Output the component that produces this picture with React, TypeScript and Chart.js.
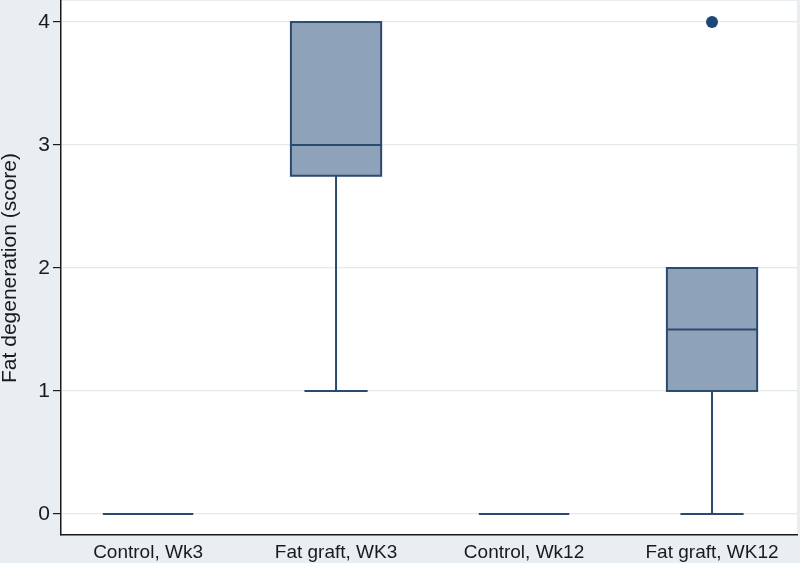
import { useEffect, useRef } from "react"
import { Chart, registerables } from "chart.js"

Chart.register(...registerables)

// data
const categories = ["Control, Wk3", "Fat graft, WK3", "Control, Wk12", "Fat graft, WK12"]
const whiskerLow = [0, 1, 0, 0]
const quartile1 = [0, 2.75, 0, 1]
const medians = [0, 3, 0, 1.5]
const quartile3 = [0, 4, 0, 2]
const whiskerHigh = [0, 4, 0, 2]
const outlierPoints = [{ x: 3, y: 4 }]
const yTicks = [0, 1, 2, 3, 4]

const BOX_FILL = "#8ea3b9"
const BOX_LINE = "#2b4a70"
const DOT = "#1b4676"
const FONT = "Liberation Sans, Arial, sans-serif"

const boxPlugin = {
  id: "boxes",
  beforeDraw(chart: any) {
    const { ctx, chartArea } = chart
    ctx.save()
    ctx.fillStyle = "#e9eef2"
    ctx.fillRect(0, 0, chart.width, chart.height)
    ctx.fillStyle = "#ffffff"
    ctx.fillRect(chartArea.left, chartArea.top, chartArea.right - chartArea.left, chartArea.bottom - chartArea.top)
    ctx.restore()
  },
  beforeDatasetsDraw(chart: any) {
    const { ctx } = chart
    const x = chart.scales.x
    const y = chart.scales.y
    const halfBox = 0.24
    const halfCap = 0.168
    ctx.save()
    ctx.lineWidth = 2
    ctx.strokeStyle = BOX_LINE
    categories.forEach((_, i) => {
      const left = x.getPixelForValue(i - halfBox)
      const right = x.getPixelForValue(i + halfBox)
      const mid = x.getPixelForValue(i)
      const top = y.getPixelForValue(quartile3[i])
      const bottom = y.getPixelForValue(quartile1[i])
      const lo = y.getPixelForValue(whiskerLow[i])
      const hi = y.getPixelForValue(whiskerHigh[i])

      // whiskers and caps
      ctx.beginPath()
      ctx.moveTo(mid, bottom)
      ctx.lineTo(mid, lo)
      ctx.moveTo(mid, top)
      ctx.lineTo(mid, hi)
      ctx.moveTo(x.getPixelForValue(i - halfCap), lo)
      ctx.lineTo(x.getPixelForValue(i + halfCap), lo)
      ctx.moveTo(x.getPixelForValue(i - halfCap), hi)
      ctx.lineTo(x.getPixelForValue(i + halfCap), hi)
      ctx.stroke()

      // box
      ctx.fillStyle = BOX_FILL
      ctx.fillRect(left, top, right - left, bottom - top)
      ctx.strokeRect(left, top, right - left, bottom - top)

      // median
      const m = y.getPixelForValue(medians[i])
      ctx.beginPath()
      ctx.moveTo(left, m)
      ctx.lineTo(right, m)
      ctx.stroke()
    })
    ctx.restore()
  },
}

export default function App() {
  const chartRef = useRef<HTMLCanvasElement>(null)
  const chartInstance = useRef<Chart | null>(null)

  useEffect(() => {
    document.body.style.margin = "0"
    if (!chartRef.current) return
    if (chartInstance.current) chartInstance.current.destroy()
    const ctx = chartRef.current.getContext("2d")
    if (!ctx) return

    chartInstance.current = new Chart(ctx, {
      type: "scatter",
      data: {
        datasets: [
          {
            label: "Outside values",
            data: outlierPoints,
            pointRadius: 6,
            pointHoverRadius: 6,
            pointBackgroundColor: DOT,
            pointBorderColor: DOT,
            pointBorderWidth: 0,
          },
        ],
      },
      options: {
        responsive: false,
        animation: false,
        layout: { autoPadding: false, padding: { top: 1, right: 3 } },
        plugins: {
          legend: { display: false },
          tooltip: { enabled: false },
        },
        scales: {
          x: {
            type: "linear",
            min: -0.463,
            max: 3.452,
            afterBuildTicks: (scale: any) => {
              scale.ticks = categories.map((_, i) => ({ value: i }))
            },
            afterFit: (scale: any) => {
              scale.height = 28
              scale.paddingLeft = 0
              scale.paddingRight = 0
            },
            grid: { display: false },
            border: { display: true, color: "#1a1a1a", width: 1.5 },
            ticks: {
              autoSkip: false,
              maxRotation: 0,
              padding: -2,
              color: "#1a1a1a",
              font: { family: FONT, size: 19 },
              callback: (v: any) => categories[v] ?? "",
            },
          },
          y: {
            min: -0.171,
            max: 4.171,
            afterBuildTicks: (scale: any) => {
              scale.ticks = yTicks.map((v) => ({ value: v }))
            },
            afterFit: (scale: any) => {
              scale.width = 61
              scale.paddingTop = 0
              scale.paddingBottom = 0
            },
            grid: {
              color: "#e4e9ec",
              lineWidth: 1.2,
              tickLength: 8,
              tickColor: "#1a1a1a",
              tickWidth: 1.2,
            },
            border: { display: true, color: "#1a1a1a", width: 1.5 },
            ticks: {
              padding: 3,
              color: "#1a1a1a",
              font: { family: FONT, size: 21 },
            },
            title: {
              display: true,
              text: "Fat degeneration (score)",
              color: "#1a1a1a",
              padding: { top: -2, bottom: 0 },
              font: { family: FONT, size: 21 },
            },
          },
        },
      },
      plugins: [boxPlugin],
    })

    return () => {
      if (chartInstance.current) {
        chartInstance.current.destroy()
        chartInstance.current = null
      }
    }
  }, [])

  return (
    <div style={{ width: 800, height: 563 }}>
      <canvas ref={chartRef} width={800} height={563} />
    </div>
  )
}
